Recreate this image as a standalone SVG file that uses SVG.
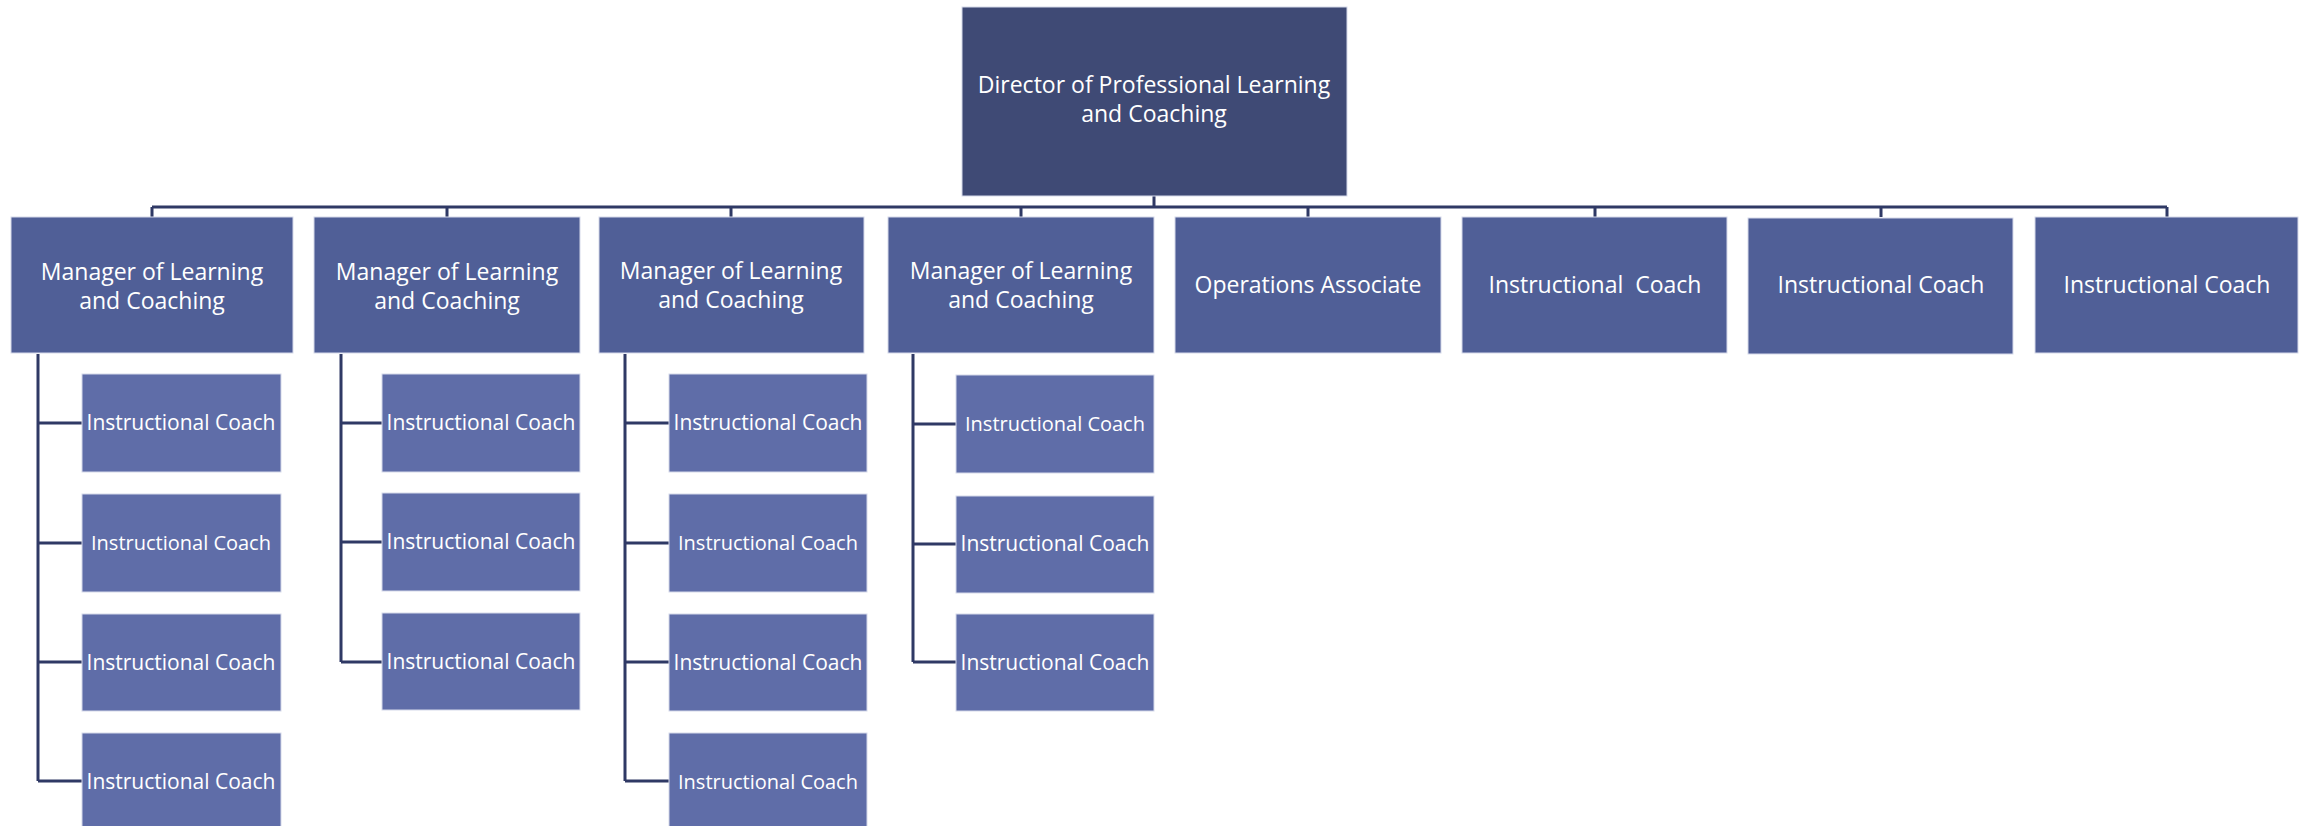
<svg xmlns="http://www.w3.org/2000/svg" width="2313" height="826" viewBox="0 0 2313 826">
<style>
.bg{fill:#ffffff}
.dir{fill:#3F4A75;stroke:#D6DAEA;stroke-width:1}
.mgr{fill:#505F97;stroke:#D6DAEA;stroke-width:1}
.ch{fill:#5F6DA8;stroke:#D6DAEA;stroke-width:1}
.t{font-family:"Open Sans","Noto Sans",sans-serif;fill:#ffffff;text-anchor:middle}
.t23{font-size:23px}
.t21{font-size:21px}
.t20{font-size:20px}
.ln{fill:none;stroke:#2F3965;stroke-width:3}
</style>
<rect class="bg" x="0" y="0" width="2313" height="826"/>
<g id="connectors">
<path class="ln" d="M1154 196V207M152 207H2167M152 207V217M447 207V217M731 207V217M1021 207V217M1308 207V217M1595 207V217M1881 207V217M2167 207V217"/>
<path class="ln" d="M38 354V781M38 423H82M38 543H82M38 662H82M38 781H82"/>
<path class="ln" d="M341 354V662M341 423H382M341 542H382M341 662H382"/>
<path class="ln" d="M625 354V781M625 423H669M625 543H669M625 662H669M625 781H669"/>
<path class="ln" d="M913 354V662M913 424H956M913 544H956M913 662H956"/>
</g>
<g id="director"><rect class="dir" x="962" y="7" width="385" height="189"/><text class="t t23" x="1154" y="93">Director of Professional Learning</text><text class="t t23" x="1154" y="122">and Coaching</text></g>
<g id="mgr1"><rect class="mgr" x="11" y="217" width="282" height="136"/><text class="t t23" x="152" y="280">Manager of Learning</text><text class="t t23" x="152" y="309">and Coaching</text></g>
<g id="mgr2"><rect class="mgr" x="314" y="217" width="266" height="136"/><text class="t t23" x="447" y="280">Manager of Learning</text><text class="t t23" x="447" y="309">and Coaching</text></g>
<g id="mgr3"><rect class="mgr" x="599" y="217" width="265" height="136"/><text class="t t23" x="731" y="279">Manager of Learning</text><text class="t t23" x="731" y="308">and Coaching</text></g>
<g id="mgr4"><rect class="mgr" x="888" y="217" width="266" height="136"/><text class="t t23" x="1021" y="279">Manager of Learning</text><text class="t t23" x="1021" y="308">and Coaching</text></g>
<g id="ops"><rect class="mgr" x="1175" y="217" width="266" height="136"/><text class="t t23" x="1308" y="293">Operations Associate</text></g>
<g id="ic-top1"><rect class="mgr" x="1462" y="217" width="265" height="136"/><text class="t t23" x="1595" y="293" xml:space="preserve">Instructional  Coach</text></g>
<g id="ic-top2"><rect class="mgr" x="1748" y="218" width="265" height="136"/><text class="t t23" x="1881" y="293">Instructional Coach</text></g>
<g id="ic-top3"><rect class="mgr" x="2035" y="217" width="263" height="136"/><text class="t t23" x="2167" y="293">Instructional Coach</text></g>
<g id="m1c1"><rect class="ch" x="82" y="374" width="199" height="98"/><text class="t t21" x="181" y="430">Instructional Coach</text></g>
<g id="m1c2"><rect class="ch" x="82" y="494" width="199" height="98"/><text class="t t20" x="181" y="550">Instructional Coach</text></g>
<g id="m1c3"><rect class="ch" x="82" y="614" width="199" height="97"/><text class="t t21" x="181" y="670">Instructional Coach</text></g>
<g id="m1c4"><rect class="ch" x="82" y="733" width="199" height="98"/><text class="t t21" x="181" y="789">Instructional Coach</text></g>
<g id="m2c1"><rect class="ch" x="382" y="374" width="198" height="98"/><text class="t t21" x="481" y="430">Instructional Coach</text></g>
<g id="m2c2"><rect class="ch" x="382" y="493" width="198" height="98"/><text class="t t21" x="481" y="549">Instructional Coach</text></g>
<g id="m2c3"><rect class="ch" x="382" y="613" width="198" height="97"/><text class="t t21" x="481" y="669">Instructional Coach</text></g>
<g id="m3c1"><rect class="ch" x="669" y="374" width="198" height="98"/><text class="t t21" x="768" y="430">Instructional Coach</text></g>
<g id="m3c2"><rect class="ch" x="669" y="494" width="198" height="98"/><text class="t t20" x="768" y="550">Instructional Coach</text></g>
<g id="m3c3"><rect class="ch" x="669" y="614" width="198" height="97"/><text class="t t21" x="768" y="670">Instructional Coach</text></g>
<g id="m3c4"><rect class="ch" x="669" y="733" width="198" height="98"/><text class="t t20" x="768" y="789">Instructional Coach</text></g>
<g id="m4c1"><rect class="ch" x="956" y="375" width="198" height="98"/><text class="t t20" x="1055" y="431">Instructional Coach</text></g>
<g id="m4c2"><rect class="ch" x="956" y="496" width="198" height="97"/><text class="t t21" x="1055" y="551">Instructional Coach</text></g>
<g id="m4c3"><rect class="ch" x="956" y="614" width="198" height="97"/><text class="t t21" x="1055" y="670">Instructional Coach</text></g>
</svg>
